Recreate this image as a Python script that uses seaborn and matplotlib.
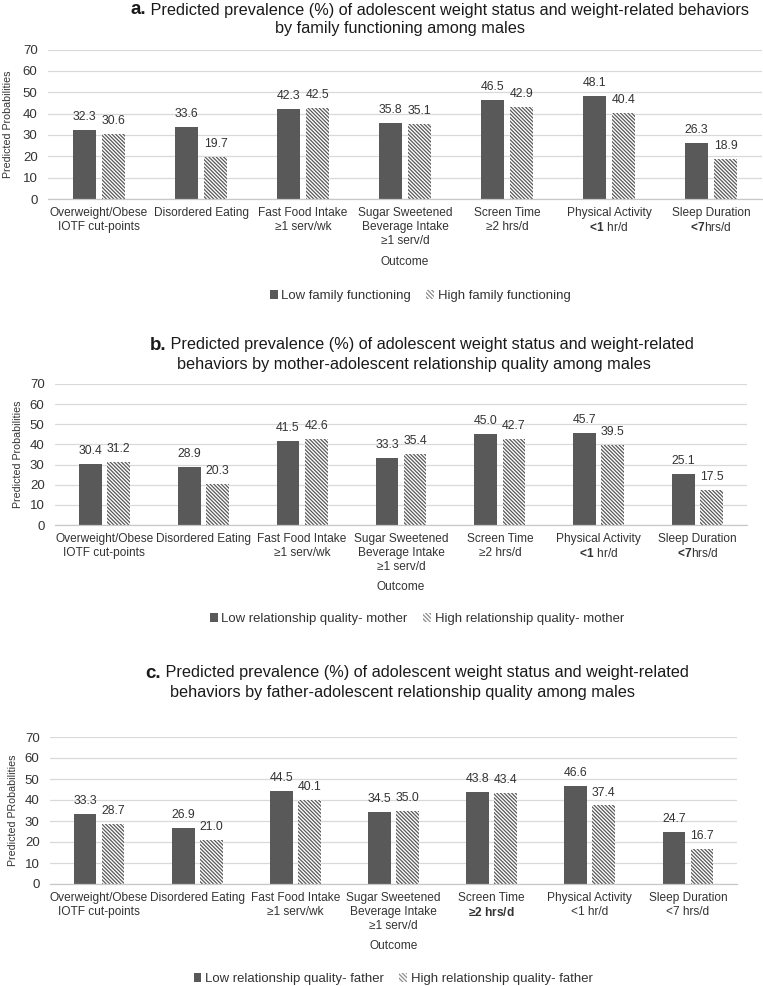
import numpy as np
import pandas as pd
import seaborn as sns
import matplotlib.pyplot as plt
from matplotlib.patches import Patch
from matplotlib.offsetbox import TextArea, HPacker, AnnotationBbox

# --- data ---
categories = ["Overweight/Obese", "Disordered Eating", "Fast Food Intake",
              "Sugar Sweetened Beverage", "Screen Time", "Physical Activity",
              "Sleep Duration"]

ticks_ab = ["Overweight/Obese\nIOTF cut-points", "Disordered Eating",
            "Fast Food Intake\n≥1 serv/wk",
            "Sugar Sweetened\nBeverage Intake\n≥1 serv/d",
            "Screen Time\n≥2 hrs/d",
            "Physical Activity\n$\\mathbf{\\!<\\!1}$ hr/d",
            "Sleep Duration\n$\\mathbf{\\!<\\!7}$hrs/d"]
ticks_c = ["Overweight/Obese\nIOTF cut-points", "Disordered Eating",
           "Fast Food Intake\n≥1 serv/wk",
           "Sugar Sweetened\nBeverage Intake\n≥1 serv/d",
           "Screen Time\n$\\mathbf{≥2\\ hrs/d}$",
           "Physical Activity\n<1 hr/d",
           "Sleep Duration\n<7 hrs/d"]

family_low = [32.3, 33.6, 42.3, 35.8, 46.5, 48.1, 26.3]
family_high = [30.6, 19.7, 42.5, 35.1, 42.9, 40.4, 18.9]
mother_low = [30.4, 28.9, 41.5, 33.3, 45.0, 45.7, 25.1]
mother_high = [31.2, 20.3, 42.6, 35.4, 42.7, 39.5, 17.5]
father_low = [33.3, 26.9, 44.5, 34.5, 43.8, 46.6, 24.7]
father_high = [28.7, 21.0, 40.1, 35.0, 43.4, 37.4, 16.7]

groups_a = ["Low family functioning", "High family functioning"]
groups_b = ["Low relationship quality- mother", "High relationship quality- mother"]
groups_c = ["Low relationship quality- father", "High relationship quality- father"]

W, H = 763, 986
DARK = "#595959"
TXT = "#333333"
HATCH = "\\" * 9

sns.set_style("white")
plt.rcParams["font.family"] = ["Liberation Sans", "DejaVu Sans"]
plt.rcParams["mathtext.fontset"] = "custom"
plt.rcParams["mathtext.rm"] = "Liberation Sans"
plt.rcParams["mathtext.bf"] = "Liberation Sans:bold"
plt.rcParams["mathtext.it"] = "Liberation Sans:italic"
plt.rcParams["hatch.linewidth"] = 0.9

# layout in pixels: (left, right, top, bottom) of axes, title line centres etc.
panels = [
    dict(letter="a.", line1=" Predicted prevalence (%) of adolescent weight status and weight-related behaviors",
         line2="by family functioning among males", low=family_low, high=family_high, groups=groups_a,
         ylabel="Predicted Probabilities", ticks=ticks_ab,
         box=(48, 762, 49.5, 199), t1=(440, 10), t2=(400, 28), ylab_x=8, outcome_y=256, leg=(420, 296)),
    dict(letter="b.", line1=" Predicted prevalence (%) of adolescent weight status and weight-related",
         line2="behaviors by mother-adolescent relationship quality among males", low=mother_low, high=mother_high,
         groups=groups_b, ylabel="Predicted Probabilities", ticks=ticks_ab,
         box=(55, 747, 384, 525), t1=(422, 345), t2=(414, 365), ylab_x=18, outcome_y=581, leg=(417, 619)),
    dict(letter="c.", line1=" Predicted prevalence (%) of adolescent weight status and weight-related",
         line2="behaviors by father-adolescent relationship quality among males", low=father_low, high=father_high,
         groups=groups_c, ylabel="Predicted PRobabilities", ticks=ticks_c,
         box=(50, 737, 737, 884), t1=(417, 673), t2=(402, 693), ylab_x=13, outcome_y=940, leg=(393, 979)),
]

fig = plt.figure(figsize=(W / 100, H / 100), dpi=100)

for p in panels:
    l, r, t, b = p["box"]
    ax = fig.add_axes([l / W, 1 - b / H, (r - l) / W, (b - t) / H])

    df = pd.DataFrame({
        "Outcome": categories * 2,
        "Group": [p["groups"][0]] * len(categories) + [p["groups"][1]] * len(categories),
        "Value": p["low"] + p["high"],
    })
    sns.barplot(data=df, x="Outcome", y="Value", hue="Group", palette=[DARK, "white"],
                saturation=1, width=0.57, gap=0.19, legend=False, ax=ax)

    for bar in ax.containers[0]:
        bar.set_linewidth(0)
    for bar in ax.containers[1]:
        bar.set_hatch(HATCH)
        bar.set_edgecolor(DARK)
        bar.set_linewidth(0)
    for cont in ax.containers:
        ax.bar_label(cont, fmt="%.1f", padding=5, fontsize=8.8, color=TXT)

    ax.set_ylim(0, 70)
    ax.set_xlim(-0.5, 6.5)
    ax.set_yticks(np.arange(0, 71, 10))
    ax.yaxis.grid(True, color="#d9d9d9", lw=0.9)
    ax.set_axisbelow(True)
    for s in ["left", "top", "right"]:
        ax.spines[s].set_visible(False)
    ax.spines["bottom"].set_color("#c8c8c8")
    ax.spines["bottom"].set_linewidth(0.9)

    ax.set_xticks(range(len(categories)))
    ax.set_xticklabels(p["ticks"], fontsize=8.6, color=TXT)
    ax.set_xticks(np.arange(-0.5, 7, 1), minor=True)
    ax.tick_params(axis="x", which="major", length=0, pad=6)
    ax.tick_params(axis="x", which="minor", length=4, color="#c8c8c8", width=0.9)
    ax.tick_params(axis="y", length=0, pad=7.5, labelsize=9.5, labelcolor=TXT)

    ax.set_xlabel("Outcome", fontsize=8.6, color=TXT)
    ax.xaxis.set_label_coords(0.5, (b - p["outcome_y"]) / (b - t))
    ax.set_ylabel(p["ylabel"], fontsize=7.7, color=TXT)
    ax.yaxis.set_label_coords((p["ylab_x"] + 5 - l) / (r - l), 0.5)

    # title: bold panel letter + text
    row = HPacker(children=[TextArea(p["letter"], textprops=dict(fontsize=13.5, fontweight="bold", color="#1a1a1a")),
                            TextArea(p["line1"], textprops=dict(fontsize=11.7, color="#1a1a1a"))],
                  align="baseline", pad=0, sep=0)
    ab = AnnotationBbox(row, (p["t1"][0] / W, 1 - p["t1"][1] / H), xycoords="figure fraction",
                        frameon=False, box_alignment=(0.5, 0.5), pad=0)
    fig.add_artist(ab)
    fig.text(p["t2"][0] / W, 1 - p["t2"][1] / H, p["line2"], fontsize=11.7, color="#1a1a1a",
             ha="center", va="center")

    handles = [Patch(facecolor=DARK, lw=0),
               Patch(facecolor="white", edgecolor="#8c8c8c", hatch="\\" * 8, lw=0)]
    fig.legend(handles, p["groups"], loc="center", ncol=2, frameon=False,
               bbox_to_anchor=(p["leg"][0] / W, 1 - p["leg"][1] / H), fontsize=9.45,
               handlelength=0.6, handleheight=0.6, handletextpad=0.25, columnspacing=1.2,
               labelcolor=TXT)

fig.savefig("out.png", dpi=100)
